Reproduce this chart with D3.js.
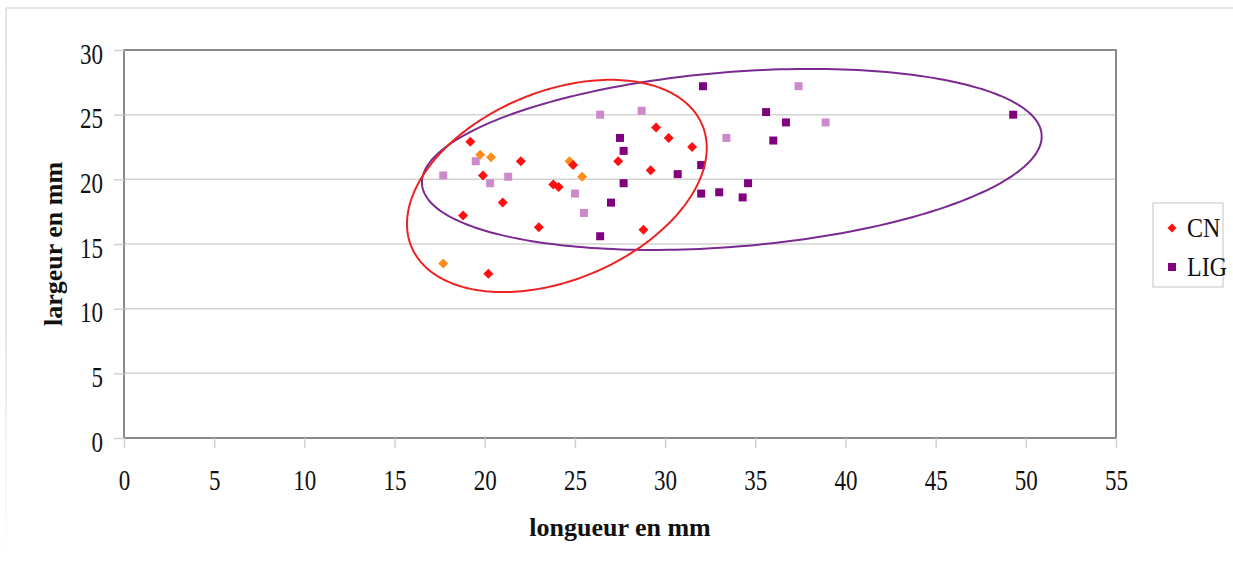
<!DOCTYPE html>
<html><head><meta charset="utf-8">
<script src="https://cdn.jsdelivr.net/npm/d3@7/dist/d3.min.js"></script>
<style>
html,body{margin:0;padding:0;background:#fff;}
svg{display:block;}
</style></head>
<body>
<svg id="chart" width="1233" height="562"></svg>
<script>
// ---- data (longueur, largeur in mm) ----
const cnRed = [[19.2,22.9],[22.0,21.4],[19.9,20.3],[24.9,21.1],[23.8,19.6],[24.1,19.4],[21.0,18.2],[18.8,17.2],[23.0,16.3],[20.2,12.7],[27.4,21.4],[29.2,20.7],[29.5,24.0],[30.2,23.2],[31.5,22.5],[28.8,16.1]];
const cnOrange = [[19.75,21.9],[20.35,21.7],[24.7,21.4],[25.4,20.2],[17.7,13.5]];
const ligLight = [[17.7,20.3],[19.5,21.4],[20.3,19.7],[21.3,20.2],[25.0,18.9],[25.5,17.4],[26.4,25.0],[28.7,25.3],[33.4,23.2],[37.4,27.2],[38.9,24.4]];
const ligDark = [[27.5,23.2],[27.7,22.2],[27.7,19.7],[27.0,18.2],[26.4,15.6],[30.7,20.4],[32.1,27.2],[32.0,21.1],[32.0,18.9],[33.0,19.0],[34.6,19.7],[34.3,18.6],[35.6,25.2],[36.7,24.4],[36.0,23.0],[49.3,25.0]];
const xTicks = [0,5,10,15,20,25,30,35,40,45,50,55];
const yTicks = [0,5,10,15,20,25,30];
const legendLabels = ["CN","LIG"];
const xTitle = "longueur en mm";
const yTitle = "largeur en mm";
// group outlines (centre and conjugate half-axes, data units)
const cnEllipse = {cx:24.0, cy:19.49, ax:8.31, ay:2.94, bx:0, by:-7.66};
const ligEllipse = {cx:33.7, cy:21.54, ax:17.18, ay:1.78, bx:0, by:-6.77};

// ---- layout ----
const L = 124, T = 50, R = 1116, B = 438;
const svg = d3.select("#chart");
const x = d3.scaleLinear().domain([0,55]).range([L,R]);
const y = d3.scaleLinear().domain([0,30]).range([B,T]);
const serif = "'Liberation Serif','Times New Roman',serif";

// outer chart border (faint)
const defs = svg.append("defs");
const grad = defs.append("linearGradient").attr("id","fade").attr("x1",0).attr("y1",0).attr("x2",0).attr("y2",1);
grad.append("stop").attr("offset","0%").attr("stop-color","#e2e2e2");
grad.append("stop").attr("offset","60%").attr("stop-color","#e8e8e8");
grad.append("stop").attr("offset","100%").attr("stop-color","#ffffff");
svg.append("line").attr("x1",6).attr("x2",1233).attr("y1",8).attr("y2",8).attr("stroke","#e4e4e4").attr("stroke-width",2);
svg.append("rect").attr("x",5).attr("y",8).attr("width",2).attr("height",554).attr("fill","url(#fade)");

// gridlines
svg.append("g").selectAll("line").data(yTicks.filter(d=>d>0)).join("line")
  .attr("x1",L).attr("x2",R).attr("y1",d=>y(d)).attr("y2",d=>y(d))
  .attr("stroke","#d4d4d4").attr("stroke-width",1.5);

// plot frame
svg.append("rect").attr("x",L).attr("y",T).attr("width",R-L).attr("height",B-T)
  .attr("fill","none").attr("stroke","#8a8a8a").attr("stroke-width",2);

// axes
const yAxis = svg.append("g").attr("transform",`translate(${L},0)`)
  .call(d3.axisLeft(y).tickValues(yTicks).tickSize(10).tickPadding(12).tickFormat(d3.format("d")));
const xAxis = svg.append("g").attr("transform",`translate(0,${B})`)
  .call(d3.axisBottom(x).tickValues(xTicks).tickSize(10).tickPadding(12).tickFormat(d3.format("d")));
[yAxis,xAxis].forEach(g=>{
  g.select(".domain").remove();
  g.selectAll(".tick line").attr("stroke","#d0d0d0").attr("stroke-width",1.5);
  g.selectAll(".tick text").attr("font-family",serif).attr("font-size",23).attr("fill","#111");
});
yAxis.selectAll(".tick text").attr("x",null).attr("dy",null).attr("y",null)
  .attr("text-anchor","end").attr("dominant-baseline","central")
  .attr("transform","translate(-21,3) scale(1,1.3)");
xAxis.selectAll(".tick text").attr("y",null).attr("dy",null)
  .attr("dominant-baseline","central")
  .attr("transform","translate(0,42) scale(1,1.3)");

// axis titles
svg.append("text").attr("x",(L+R)/2 - 0).attr("y",536).attr("text-anchor","middle")
  .attr("font-family",serif).attr("font-weight","bold").attr("font-size",26).attr("fill","#111").text(xTitle);
svg.append("text").attr("transform",`translate(62,${(T+B)/2}) rotate(-90)`).attr("text-anchor","middle")
  .attr("font-family",serif).attr("font-weight","bold").attr("font-size",26).attr("fill","#111").text(yTitle);

// ellipses
function ellipsePath(e){
  const ts = d3.range(0, 2*Math.PI, Math.PI/120);
  return d3.line().curve(d3.curveLinearClosed)(ts.map(t=>[
    x(e.cx + e.ax*Math.cos(t) + e.bx*Math.sin(t)),
    y(e.cy + e.ay*Math.cos(t) + e.by*Math.sin(t))]));
}

// markers
const diamond = d3.symbol().type(d3.symbolDiamond2 || d3.symbolSquare).size(60);
function drawDiamonds(data,color){
  svg.append("g").selectAll("path").data(data).join("path")
    .attr("d",d3.symbol().type(d3.symbolSquare).size(50))
    .attr("transform",d=>`translate(${x(d[0])},${y(d[1])}) rotate(45)`)
    .attr("fill",color);
}
function drawSquares(data,color){
  svg.append("g").selectAll("rect").data(data).join("rect")
    .attr("x",d=>x(d[0])-4).attr("y",d=>y(d[1])-4).attr("width",8).attr("height",8)
    .attr("fill",color);
}
drawSquares(ligLight,"#cc8acb");
drawSquares(ligDark,"#800080");
drawDiamonds(cnOrange,"#ff8c1a");
drawDiamonds(cnRed,"#ff1010");

svg.append("path").attr("d",ellipsePath(ligEllipse)).attr("fill","none").attr("stroke","#7a2a90").attr("stroke-width",2);
svg.append("path").attr("d",ellipsePath(cnEllipse)).attr("fill","none").attr("stroke","#ee2222").attr("stroke-width",2);

// legend
const lg = svg.append("g");
lg.append("rect").attr("x",1153).attr("y",203).attr("width",70).attr("height",84)
  .attr("fill","#fff").attr("stroke","#d8d8d8").attr("stroke-width",1.5);
const items = legendLabels.map((t,i)=>({t, yy: 228 + i*39, shape: i===0 ? "d":"s", c: i===0 ? "#ff1010" : "#800080"}));
items.forEach(it=>{
  if(it.shape==="d"){
    lg.append("path").attr("d",d3.symbol().type(d3.symbolSquare).size(40)())
      .attr("transform",`translate(1172,${it.yy}) rotate(45)`).attr("fill",it.c);
  } else {
    lg.append("rect").attr("x",1168).attr("y",it.yy-4).attr("width",8).attr("height",8).attr("fill",it.c);
  }
  lg.append("text").attr("x",1187).attr("y",it.yy).attr("dominant-baseline","central")
    .attr("font-family",serif).attr("font-size",24).attr("fill","#111")
    .attr("transform",`translate(0,${it.yy}) scale(1,1.12) translate(0,${-it.yy})`).text(it.t);
});
</script>
</body></html>
